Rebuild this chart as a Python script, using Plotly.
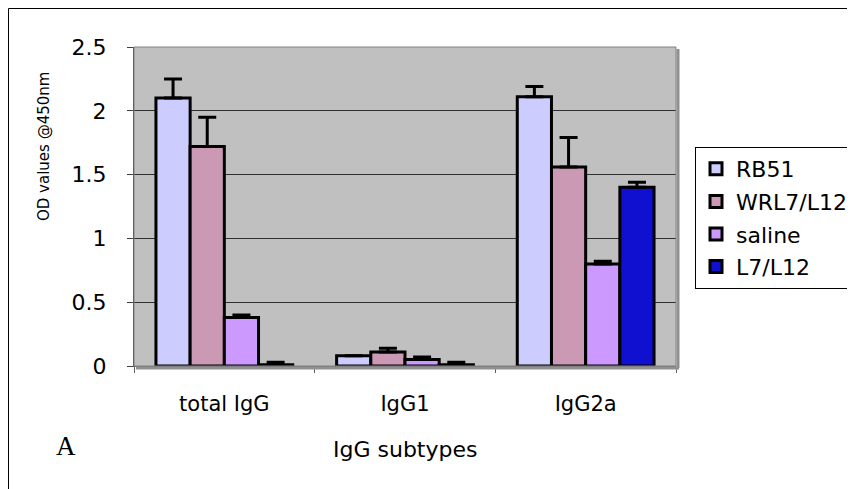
import plotly.graph_objects as go

categories = ["total IgG", "IgG1", "IgG2a"]
series_names = ["RB51", "WRL7/L12", "saline", "L7/L12"]
rb51 = [2.10, 0.08, 2.11]
rb51_err = [0.15, 0.0, 0.08]
wrl = [1.72, 0.11, 1.56]
wrl_err = [0.23, 0.03, 0.23]
saline = [0.38, 0.05, 0.80]
saline_err = [0.02, 0.02, 0.02]
l7 = [0.01, 0.01, 1.40]
l7_err = [0.02, 0.02, 0.04]

values = [rb51, wrl, saline, l7]
errors = [rb51_err, wrl_err, saline_err, l7_err]
colors = ["#CCCCFF", "#CC99B4", "#CC99FF", "#1010D0"]

fig = go.Figure()
for name, v, e, c in zip(series_names, values, errors, colors):
    fig.add_trace(go.Bar(
        x=categories, y=v, name=name, legendgroup=name,
        marker=dict(color=c, line=dict(color="black", width=3)),
        error_y=dict(type="data", array=e, arrayminus=[0] * len(e), symmetric=False,
                     color="black", thickness=3, width=9),
    ))

font_family = "DejaVu Sans, Verdana, sans-serif"
OFF = 8  # page body margin
W, H = 855 - OFF, 489 - OFF
# plot area in page pixels
L, R, T, B = 134, 676, 47, 366
L, R, T, B = L - OFF, R - OFF, T - OFF, B - OFF
pw, ph = R - L, B - T


def px_x(p):
    return (p - OFF - L) / pw


def px_y(p):
    return (B - (p - OFF)) / ph


fig.update_layout(
    width=W, height=H,
    margin=dict(l=L, r=W - R, t=T, b=H - B, pad=0, autoexpand=False),
    paper_bgcolor="white",
    plot_bgcolor="#C0C0C0",
    barmode="group",
    bargap=0.243,
    bargroupgap=0,
    font=dict(family=font_family, size=20, color="black"),
    showlegend=True,
    legend=dict(x=px_x(695), y=px_y(147), xanchor="left", yanchor="top",
                bordercolor="black", borderwidth=1, bgcolor="white",
                font=dict(size=22), tracegroupgap=1, itemwidth=30),
    xaxis=dict(type="category", tickson="boundaries", ticks="outside", ticklen=6,
               tickcolor="#606060", showline=True, linecolor="#606060", linewidth=1,
               showgrid=False, tickfont=dict(size=21),
               ticklabelstandoff=19),
    yaxis=dict(range=[0, 2.5], dtick=0.5, ticks="outside", ticklen=6, tickcolor="#404040",
               showline=True, linecolor="#404040", linewidth=1,
               showgrid=True, gridcolor="#303030", gridwidth=1, zeroline=False,
               tickfont=dict(size=22), tickformat="~g", ticklabelstandoff=16),
    shapes=[
        dict(type="rect", xref="paper", yref="paper", x0=0, x1=1, y0=0, y1=1,
             line=dict(color="#808080", width=1)),
        dict(type="line", xref="paper", yref="paper",
             x0=px_x(678), x1=px_x(678), y0=px_y(49), y1=px_y(368),
             line=dict(color="#909090", width=3)),
        dict(type="line", xref="paper", yref="paper",
             x0=px_x(136), x1=px_x(679), y0=px_y(368), y1=px_y(368),
             line=dict(color="#909090", width=3)),
        dict(type="line", xref="paper", yref="paper",
             x0=px_x(8.5), x1=px_x(860), y0=px_y(8.5), y1=px_y(8.5),
             line=dict(color="black", width=1)),
        dict(type="line", xref="paper", yref="paper",
             x0=px_x(8.5), x1=px_x(8.5), y0=px_y(8.5), y1=px_y(495),
             line=dict(color="black", width=1)),
    ],
    annotations=[
        dict(text="OD values @450nm", xref="paper", yref="paper", x=px_x(44), y=px_y(147),
             xanchor="center", yanchor="middle",
             textangle=-90, showarrow=False, font=dict(size=15)),
        dict(text="IgG subtypes", xref="paper", yref="paper", x=px_x(405), y=px_y(449),
             xanchor="center", yanchor="middle",
             showarrow=False, font=dict(size=22)),
        dict(text="A", xref="paper", yref="paper", x=px_x(66), y=px_y(446),
             xanchor="center", yanchor="middle",
             showarrow=False, font=dict(family="Liberation Serif, Times New Roman, serif", size=27)),
    ],
)

fig.write_html("out.html")
